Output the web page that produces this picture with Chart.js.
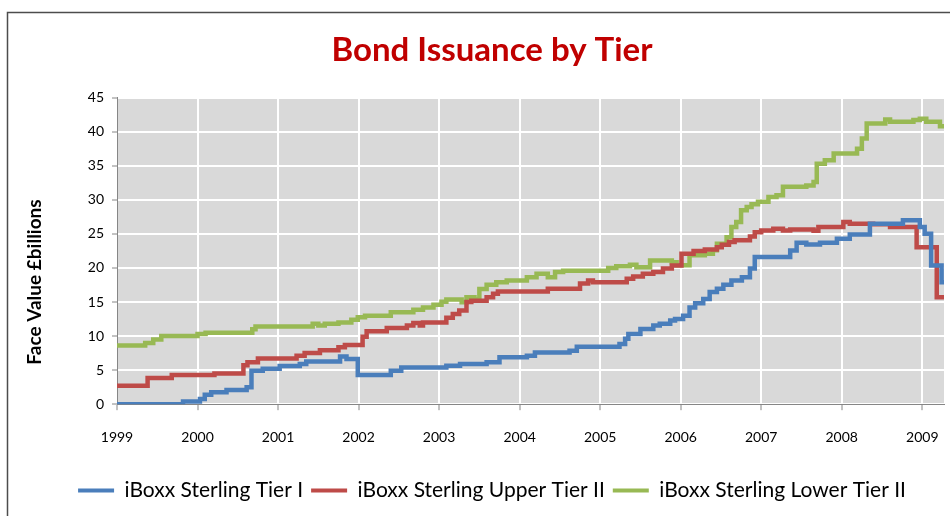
<!DOCTYPE html>
<html>
<head>
<meta charset="utf-8">
<title>Bond Issuance by Tier</title>
<script src="https://cdn.jsdelivr.net/npm/chart.js@4"></script>
<style>
  body { margin: 0; background: #fff; }
  canvas { display: block; }
</style>
</head>
<body>
<canvas id="chart" width="950" height="516"></canvas>
<script>
// ---- data (decimal year -> £bn, value holds until the next point) ----
const yearTicks = [1999, 2000, 2001, 2002, 2003, 2004, 2005, 2006, 2007, 2008, 2009];
const valueTicks = [0, 5, 10, 15, 20, 25, 30, 35, 40, 45];

const tier1Years = [1999.0, 1999.82, 2000.03, 2000.09, 2000.17, 2000.36, 2000.61, 2000.67, 2000.81, 2001.02,
  2001.27, 2001.35, 2001.77, 2001.85, 2001.99, 2002.4, 2002.53, 2003.09, 2003.26, 2003.59,
  2003.75, 2004.09, 2004.19, 2004.62, 2004.71, 2005.24, 2005.31, 2005.35, 2005.5, 2005.66,
  2005.74, 2005.87, 2005.93, 2006.03, 2006.11, 2006.18, 2006.28, 2006.36, 2006.45, 2006.53,
  2006.63, 2006.76, 2006.86, 2006.92, 2007.36, 2007.44, 2007.56, 2007.73, 2007.94, 2008.1,
  2008.35, 2008.76, 2008.97, 2009.03, 2009.11, 2009.24, 2009.27];
const tier1Values = [0, 0.4, 0.75, 1.4, 1.75, 2.1, 2.5, 4.9, 5.2, 5.6,
  5.9, 6.25, 7.0, 6.65, 4.3, 4.9, 5.4, 5.65, 5.9, 6.15,
  6.9, 7.1, 7.6, 7.85, 8.45, 8.85, 9.6, 10.3, 11.05, 11.55,
  11.8, 12.3, 12.5, 13.0, 14.2, 14.8, 15.45, 16.45, 16.95, 17.55,
  18.15, 18.65, 19.9, 21.6, 22.55, 23.7, 23.45, 23.7, 24.3, 24.9,
  26.5, 27.0, 26.0, 25.0, 20.35, 17.9, 17.9];

const upperYears = [1999.0, 1999.38, 1999.68, 2000.21, 2000.57, 2000.62, 2000.75, 2001.23, 2001.33, 2001.52,
  2001.75, 2001.83, 2002.05, 2002.1, 2002.35, 2002.6, 2002.68, 2002.76, 2002.8, 2003.09,
  2003.17, 2003.25, 2003.34, 2003.4, 2003.59, 2003.67, 2003.73, 2004.35, 2004.75, 2004.85,
  2004.91, 2005.33, 2005.41, 2005.53, 2005.66, 2005.78, 2005.89, 2006.01, 2006.16, 2006.3,
  2006.45, 2006.51, 2006.6, 2006.67, 2006.86, 2006.92, 2007.0, 2007.15, 2007.27, 2007.36,
  2007.65, 2007.71, 2008.02, 2008.1, 2008.39, 2008.6, 2008.93, 2009.18, 2009.27];
const upperValues = [2.7, 3.85, 4.3, 4.5, 5.7, 6.15, 6.7, 7.1, 7.5, 7.9,
  8.35, 8.7, 9.9, 10.7, 11.2, 11.55, 11.9, 11.55, 12.0, 12.7,
  13.25, 13.75, 15.0, 15.2, 15.7, 16.2, 16.55, 16.95, 17.7, 18.15,
  17.9, 18.4, 18.75, 19.15, 19.4, 19.9, 20.35, 22.1, 22.5, 22.7,
  23.05, 23.4, 23.8, 24.05, 24.6, 25.25, 25.5, 25.75, 25.5, 25.65,
  25.45, 26.0, 26.75, 26.5, 26.4, 26.0, 23.05, 15.7, 15.7];

const lowerYears = [1999.0, 1999.35, 1999.45, 1999.55, 2000.0, 2000.1, 2000.68, 2000.72, 2001.43, 2001.5,
  2001.58, 2001.75, 2001.91, 2001.99, 2002.08, 2002.4, 2002.68, 2002.8, 2002.93, 2003.03,
  2003.09, 2003.28, 2003.34, 2003.44, 2003.5, 2003.59, 2003.71, 2003.84, 2004.09, 2004.21,
  2004.35, 2004.44, 2004.54, 2005.1, 2005.2, 2005.37, 2005.45, 2005.62, 2005.89, 2005.95,
  2006.11, 2006.3, 2006.4, 2006.45, 2006.57, 2006.63, 2006.69, 2006.75, 2006.82, 2006.88,
  2006.96, 2007.09, 2007.19, 2007.27, 2007.56, 2007.65, 2007.69, 2007.79, 2007.9, 2008.19,
  2008.25, 2008.31, 2008.54, 2008.6, 2008.89, 2008.97, 2009.05, 2009.22, 2009.27];
const lowerValues = [8.6, 9.0, 9.5, 10.0, 10.3, 10.5, 11.0, 11.4, 11.8, 11.55,
  11.8, 12.0, 12.4, 12.75, 13.0, 13.5, 13.85, 14.2, 14.6, 15.05,
  15.35, 14.97, 15.7, 15.35, 16.9, 17.55, 17.9, 18.15, 18.65, 19.15,
  18.65, 19.4, 19.6, 20.0, 20.25, 20.45, 20.1, 21.1, 20.85, 20.4,
  21.85, 22.1, 22.6, 23.55, 24.5, 26.0, 26.75, 28.45, 28.95, 29.35,
  29.7, 30.4, 30.65, 31.9, 32.1, 32.6, 35.3, 35.8, 36.8, 37.5,
  39.0, 41.2, 41.8, 41.45, 41.7, 41.9, 41.45, 40.8, 40.8];

const seriesNames = ["iBoxx Sterling Tier I", "iBoxx Sterling Upper Tier II", "iBoxx Sterling Lower Tier II"];
const seriesColors = ["#4a7ebb", "#be4b48", "#98b954"];

const toPoints = (xs, ys) => xs.map((x, i) => ({ x, y: ys[i] }));
const seriesData = [
  toPoints(tier1Years, tier1Values),
  toPoints(upperYears, upperValues),
  toPoints(lowerYears, lowerValues),
];

// frame round the chart + plot background + rotated axis caption
const decor = {
  id: "decor",
  beforeDraw(chart) {
    const { ctx, chartArea: a } = chart;
    ctx.save();
    ctx.fillStyle = "#fff";
    ctx.fillRect(0, 0, chart.width, chart.height);
    ctx.strokeStyle = "#4d4d4d";
    ctx.lineWidth = 1.5;
    ctx.strokeRect(7.5, 12.5, 1000, 600);
    ctx.fillStyle = "#d9d9d9";
    ctx.fillRect(a.left, a.top, a.right - a.left, a.bottom - a.top);
    ctx.restore();
  },
  afterDraw(chart) {
    const ctx = chart.ctx;
    ctx.save();
    ctx.translate(35, 282);
    ctx.rotate(-Math.PI / 2);
    ctx.font = "bold 19px Lato";
    ctx.fillStyle = "#000";
    ctx.textAlign = "center";
    ctx.textBaseline = "middle";
    ctx.fillText("Face Value £billions", 0, 0);
    ctx.restore();
  },
};

new Chart(document.getElementById("chart"), {
  type: "line",
  data: {
    datasets: seriesData.map((pts, i) => ({
      label: seriesNames[i],
      data: pts,
      borderColor: seriesColors[i],
      backgroundColor: seriesColors[i],
      borderWidth: 4.5,
      pointRadius: 0,
      stepped: true,
      fill: false,
    })),
  },
  options: {
    responsive: false,
    animation: false,
    layout: { padding: { left: 40, right: 6, top: 0, bottom: 5 } },
    plugins: {
      title: {
        display: true,
        text: "Bond Issuance by Tier",
        color: "#c00000",
        font: { family: "Lato", size: 33, weight: "bold" },
        padding: { top: 31, bottom: 27 },
      },
      legend: {
        position: "bottom",
        labels: {
          color: "#000",
          font: { family: "Lato", size: 21 },
          boxWidth: 36,
          boxHeight: 4,
          padding: 8,
          generateLabels: (chart) =>
            Chart.defaults.plugins.legend.labels.generateLabels(chart).map(l => ({ ...l, lineWidth: 0 })),
        },
      },
      tooltip: { enabled: false },
    },
    scales: {
      x: {
        type: "linear",
        min: 1999,
        max: 2009.27,
        afterBuildTicks: (s) => { s.ticks = yearTicks.map(v => ({ value: v })); },
        afterFit: (s) => { s.height += 7; s.paddingRight = 0; s.paddingLeft = 0; },
        ticks: {
          color: "#000",
          font: { family: "Lato", size: 14 },
          padding: 19,
          maxRotation: 0,
          callback: (v) => String(v),
        },
        grid: { color: "#fff", lineWidth: 2, tickColor: "#868686", tickLength: 6, tickWidth: 1 },
        border: { color: "#868686", width: 1 },
      },
      y: {
        min: 0,
        max: 45,
        afterBuildTicks: (s) => { s.ticks = valueTicks.map(v => ({ value: v })); },
        afterFit: (s) => { s.width = 77; },
        ticks: {
          color: "#000",
          font: { family: "Lato", size: 14 },
          padding: 8,
        },
        grid: { color: "#fff", lineWidth: 2, tickColor: "#868686", tickLength: 5, tickWidth: 1 },
        border: { color: "#868686", width: 1 },
      },
    },
  },
  plugins: [decor],
});
</script>
</body>
</html>
